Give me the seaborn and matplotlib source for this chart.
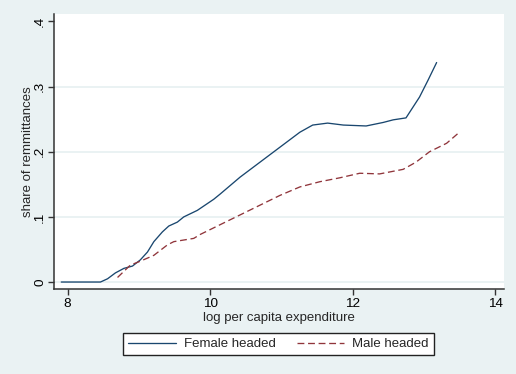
import matplotlib
matplotlib.use("Agg")
import matplotlib.pyplot as plt
import seaborn as sns
import pandas as pd

# Smoothed share of remittances by log per capita expenditure
female_x = [7.91, 8.46, 8.56, 8.67, 8.79, 8.91, 9.02, 9.12, 9.21, 9.33, 9.42,
            9.54, 9.63, 9.82, 10.05, 10.14, 10.42, 10.70, 10.98, 11.26, 11.44,
            11.65, 11.87, 12.10, 12.19, 12.43, 12.57, 12.75, 12.94, 13.06, 13.18]
female_y = [0.0, 0.0, 0.005, 0.014, 0.021, 0.0245, 0.034, 0.046, 0.062, 0.077, 0.086,
            0.092, 0.100, 0.110, 0.127, 0.135, 0.161, 0.184, 0.207, 0.230, 0.241,
            0.244, 0.241, 0.240, 0.2396, 0.245, 0.249, 0.252, 0.284, 0.310, 0.337]

male_x = [8.70, 8.88, 9.02, 9.21, 9.40, 9.49, 9.77, 9.86, 10.14, 10.42, 10.70,
          10.98, 11.26, 11.54, 11.82, 12.10, 12.38, 12.71, 12.89, 13.08, 13.32, 13.50]
male_y = [0.007, 0.026, 0.032, 0.041, 0.057, 0.062, 0.067, 0.073, 0.088, 0.103, 0.118,
          0.133, 0.146, 0.154, 0.160, 0.167, 0.166, 0.173, 0.184, 0.200, 0.213, 0.230]

x_ticks = [8, 10, 12, 14]
y_ticks = [0.0, 0.1, 0.2, 0.3, 0.4]
y_tick_labels = ["0", ".1", ".2", ".3", ".4"]
series_labels = ["Female headed", "Male headed"]

BG = "#EAF2F3"
NAVY = "#1A476F"
MAROON = "#90353B"
AXIS = "#333333"

sns.set_style("white")
plt.rcParams["font.family"] = ["Liberation Sans", "DejaVu Sans"]

fig = plt.figure(figsize=(5.16, 3.74), dpi=100, facecolor=BG)
ax = fig.add_axes([54 / 516, 85 / 374, 450 / 516, 275 / 374])
ax.set_facecolor("white")

female = pd.DataFrame({"x": female_x, "y": female_y})
male = pd.DataFrame({"x": male_x, "y": male_y})

sns.lineplot(data=female, x="x", y="y", ax=ax, color=NAVY, linewidth=0.95,
             label=series_labels[0], legend=False)
sns.lineplot(data=male, x="x", y="y", ax=ax, color=MAROON, linewidth=0.95,
             linestyle=(0, (5.2, 2.8)), label=series_labels[1], legend=False)

ax.set_xlim(7.808, 14.126)
ax.set_ylim(-0.0107, 0.4115)
ax.set_xticks(x_ticks)
ax.set_xticklabels([str(t) for t in x_ticks])
ax.set_yticks(y_ticks)
ax.set_yticklabels(y_tick_labels, rotation=90, va="center")

ax.grid(axis="y", color=BG, linewidth=1.4)
ax.grid(axis="x", visible=False)
ax.get_ygridlines()[-1].set_visible(False)
ax.set_axisbelow(True)

for side in ("top", "right"):
    ax.spines[side].set_visible(False)
for side in ("left", "bottom"):
    ax.spines[side].set_color(AXIS)
    ax.spines[side].set_linewidth(1.1)

ax.tick_params(axis="both", which="major", direction="out", length=4.2,
               width=1.0, color=AXIS, labelsize=9.7, labelcolor="black",
               left=True, bottom=True)
ax.tick_params(axis="y", pad=1.4)
ax.tick_params(axis="x", pad=2.5)

ax.set_xlabel("log per capita expenditure", fontsize=9.5, labelpad=1)
ax.set_ylabel("share of remmittances", fontsize=9.5, labelpad=0)

handles, labels = ax.get_legend_handles_labels()
leg = fig.legend(handles, labels, loc="center", ncol=2,
                 bbox_to_anchor=(278.5 / 516, 30 / 374),
                 frameon=True, fancybox=False, shadow=False,
                 fontsize=9.5, handlelength=3.6, handletextpad=0.6,
                 columnspacing=1.6, borderpad=0.4, borderaxespad=0)
frame = leg.get_frame()
frame.set_edgecolor("#222222")
frame.set_linewidth(1.0)
frame.set_facecolor("white")
frame.set_alpha(1.0)

fig.savefig("out.png", dpi=100, facecolor=BG)
